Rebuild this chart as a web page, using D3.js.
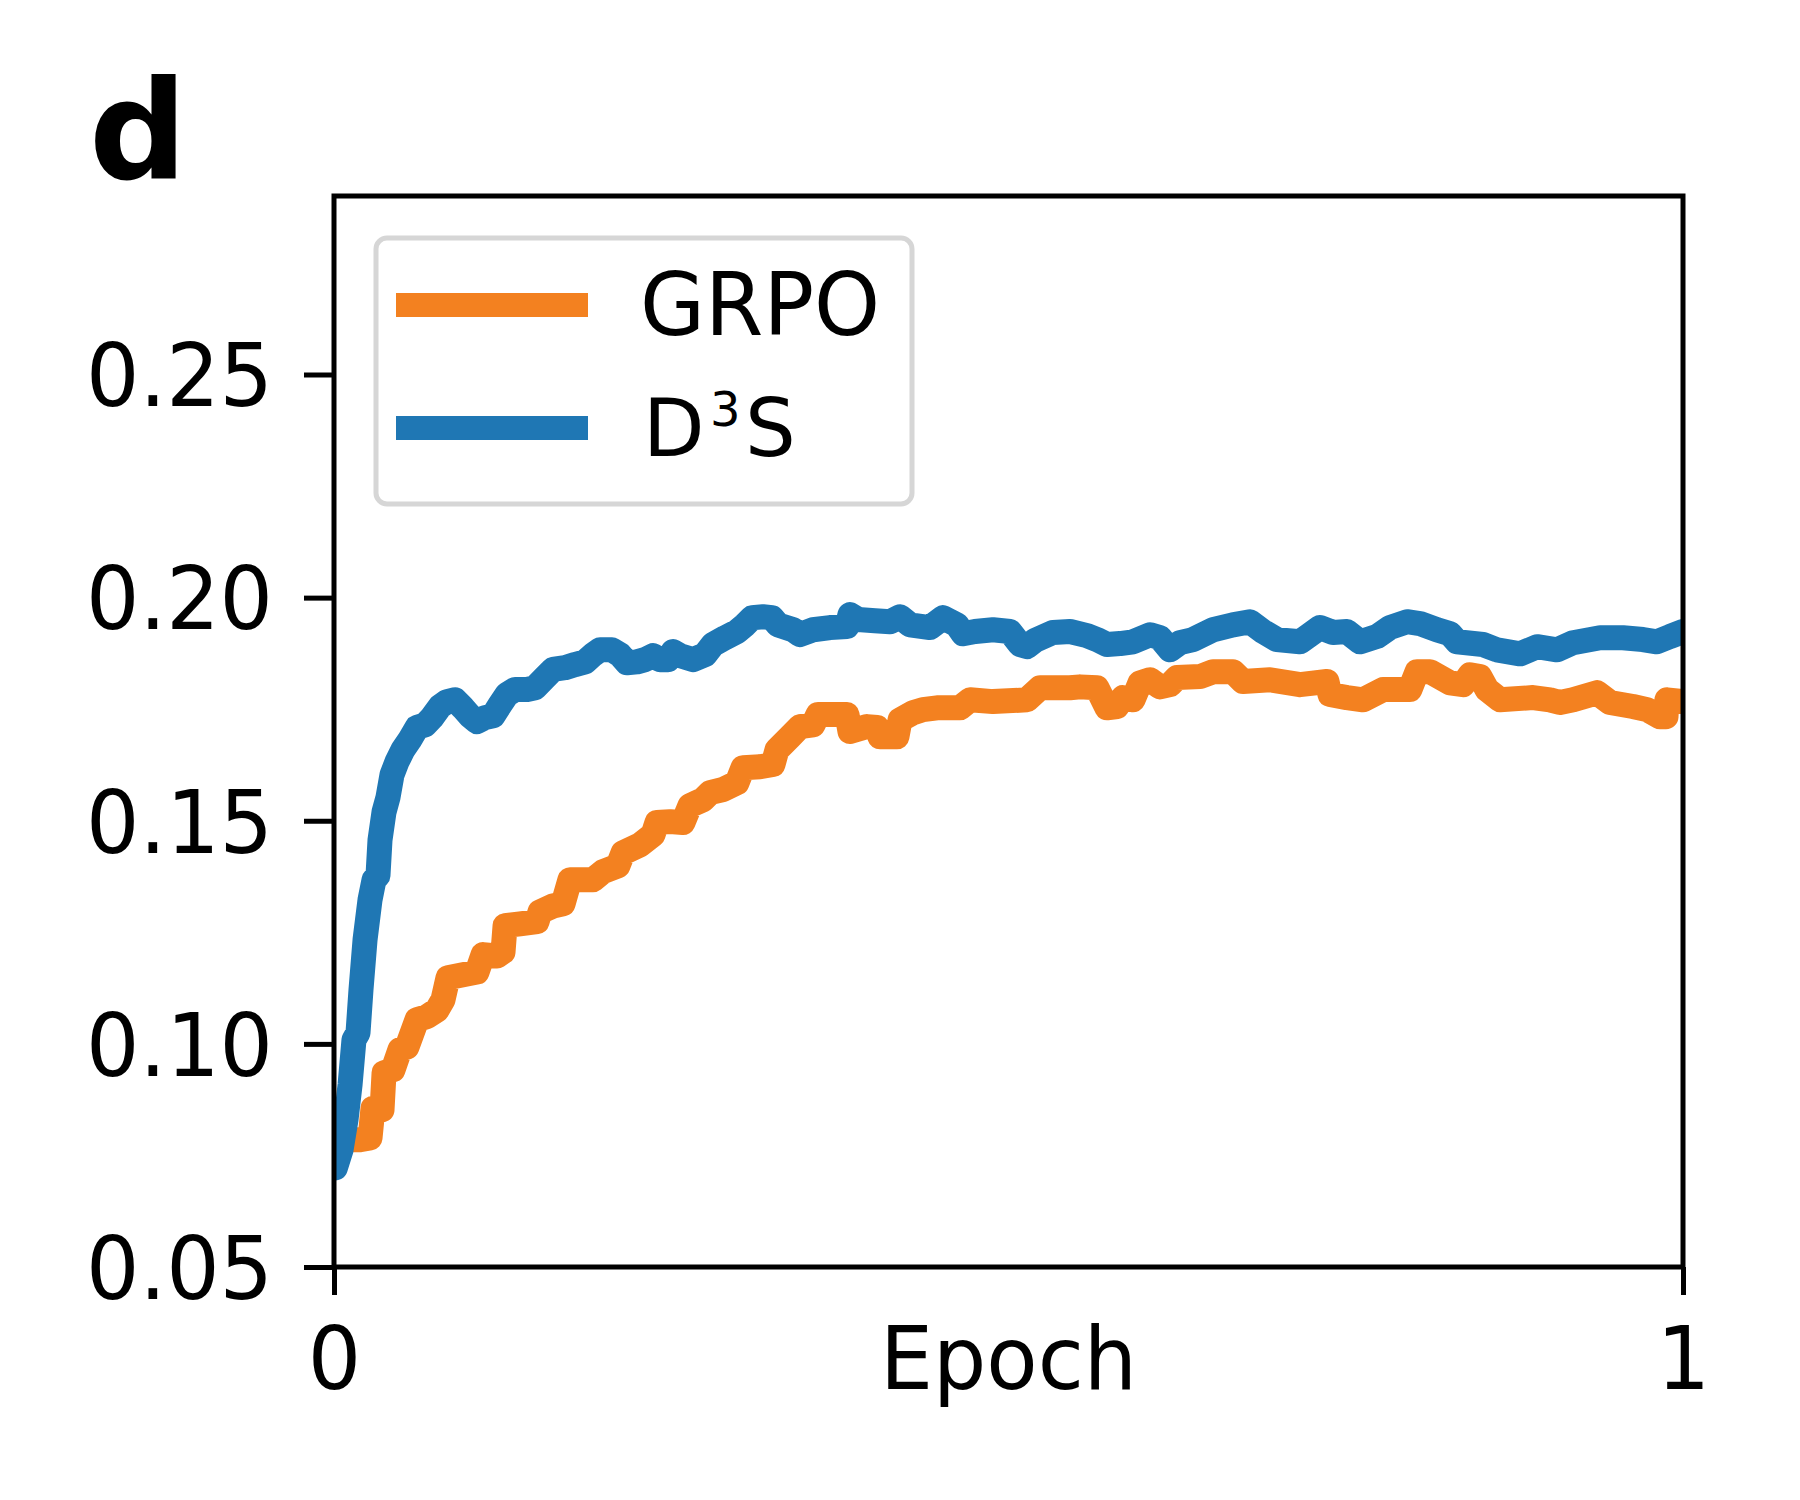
<!DOCTYPE html>
<html>
<head>
<meta charset="utf-8">
<script src="https://cdn.jsdelivr.net/npm/d3@7"></script>
<style>
  html, body { margin: 0; padding: 0; background: #fff; }
  svg { display: block; }
  text { font-family: "DejaVu Sans", sans-serif; fill: #000; }
</style>
</head>
<body>
<svg id="chart" width="1800" height="1500"></svg>
<script>
// ---- data ----
const yTicks = [0.05, 0.10, 0.15, 0.20, 0.25];
const xTicks = [0, 1];
const seriesNames = ["GRPO", "D3S"];

const grpoEpoch = [0,0.0193,0.0267,0.0289,0.0356,0.0371,0.0437,0.0489,0.0541,0.0615,0.0689,0.0764,0.0808,0.0845,0.0956,0.1060,0.1105,0.1208,0.1253,0.1268,0.1379,0.1505,0.1527,0.1623,0.1698,0.1749,0.1920,0.1994,0.2105,0.2142,0.2268,0.2365,0.2394,0.2491,0.2587,0.2639,0.2735,0.2787,0.2884,0.2987,0.3032,0.3158,0.3254,0.3284,0.3380,0.3454,0.3551,0.3588,0.3803,0.3825,0.3951,0.4025,0.4047,0.4173,0.4196,0.4292,0.4366,0.4470,0.4640,0.4715,0.4885,0.5137,0.5234,0.5456,0.5530,0.5656,0.5730,0.5804,0.5849,0.5923,0.5975,0.6049,0.6123,0.6197,0.6249,0.6420,0.6516,0.6664,0.6738,0.6939,0.7161,0.7361,0.7383,0.7509,0.7628,0.7776,0.7976,0.8028,0.8125,0.8273,0.8369,0.8421,0.8495,0.8547,0.8643,0.8888,0.9014,0.9088,0.9185,0.9363,0.9459,0.9629,0.9733,0.9829,0.9874,0.9881,1.0];
const grpoValue = [0.0785,0.0785,0.0789,0.0856,0.0852,0.0935,0.0942,0.0987,0.0993,0.1054,0.1061,0.1076,0.1099,0.1148,0.1155,0.1161,0.1200,0.1197,0.1206,0.1265,0.1269,0.1274,0.1296,0.1309,0.1314,0.1368,0.1368,0.1386,0.1399,0.1428,0.1446,0.1469,0.1496,0.1498,0.1496,0.1534,0.1547,0.1563,0.1570,0.1585,0.1619,0.1621,0.1626,0.1659,0.1688,0.1711,0.1715,0.1738,0.1738,0.1700,0.1711,0.1709,0.1688,0.1688,0.1726,0.1742,0.1749,0.1753,0.1753,0.1771,0.1767,0.1771,0.1798,0.1798,0.1800,0.1798,0.1753,0.1756,0.1776,0.1771,0.1809,0.1816,0.1800,0.1805,0.1821,0.1823,0.1834,0.1834,0.1812,0.1816,0.1805,0.1812,0.1783,0.1776,0.1771,0.1794,0.1794,0.1834,0.1834,0.1809,0.1805,0.1827,0.1823,0.1794,0.1771,0.1776,0.1771,0.1765,0.1771,0.1787,0.1765,0.1756,0.1749,0.1733,0.1733,0.1771,0.1767];

const d3sEpoch = [0.001,0.0052,0.0089,0.0119,0.0148,0.0178,0.0200,0.0230,0.0267,0.0297,0.0326,0.0341,0.0371,0.0400,0.0430,0.0467,0.0511,0.0563,0.0615,0.0675,0.0726,0.0786,0.0838,0.0897,0.0956,0.1008,0.1060,0.1119,0.1179,0.1231,0.1282,0.1342,0.1431,0.1490,0.1564,0.1623,0.1712,0.1787,0.1861,0.1920,0.1972,0.2061,0.2120,0.2172,0.2246,0.2305,0.2365,0.2417,0.2476,0.2513,0.2565,0.2661,0.2750,0.2809,0.2898,0.2987,0.3047,0.3099,0.3180,0.3247,0.3291,0.3403,0.3454,0.3551,0.3677,0.3803,0.3825,0.3884,0.4010,0.4122,0.4196,0.4270,0.4418,0.4514,0.4618,0.4663,0.4752,0.4885,0.5011,0.5085,0.5137,0.5197,0.5330,0.5456,0.5582,0.5656,0.5730,0.5827,0.5923,0.6049,0.6123,0.6197,0.6271,0.6368,0.6516,0.6664,0.6790,0.6887,0.6990,0.7161,0.7309,0.7406,0.7509,0.7606,0.7732,0.7828,0.7954,0.8050,0.8176,0.8273,0.8325,0.8517,0.8621,0.8792,0.8918,0.9066,0.9185,0.9385,0.9555,0.9703,0.9807,0.9904,1.0];
const d3sValue = [0.0722,0.0762,0.0830,0.0908,0.1009,0.1025,0.1121,0.1233,0.1323,0.1368,0.1377,0.1457,0.1520,0.1552,0.1603,0.1632,0.1659,0.1682,0.1709,0.1715,0.1731,0.1756,0.1767,0.1771,0.1753,0.1735,0.1722,0.1731,0.1735,0.1760,0.1783,0.1794,0.1794,0.1798,0.1821,0.1839,0.1843,0.1850,0.1856,0.1872,0.1883,0.1883,0.1872,0.1854,0.1856,0.1861,0.1870,0.1861,0.1861,0.1879,0.1870,0.1861,0.1872,0.1895,0.1910,0.1924,0.1939,0.1955,0.1957,0.1955,0.1939,0.1928,0.1917,0.1928,0.1933,0.1935,0.1962,0.1951,0.1948,0.1946,0.1957,0.1939,0.1933,0.1955,0.1939,0.1919,0.1924,0.1928,0.1924,0.1895,0.1890,0.1904,0.1922,0.1924,0.1915,0.1906,0.1895,0.1897,0.1901,0.1917,0.1910,0.1883,0.1899,0.1906,0.1928,0.1939,0.1946,0.1924,0.1906,0.1901,0.1933,0.1922,0.1924,0.1901,0.1913,0.1933,0.1946,0.1942,0.1928,0.1919,0.1901,0.1895,0.1883,0.1874,0.1890,0.1883,0.1899,0.1910,0.1910,0.1906,0.1901,0.1913,0.1924];

// ---- layout ----
const svg = d3.select("#chart");
const M = { left: 334, right: 1683, top: 196, bottom: 1267 };
const x = d3.scaleLinear().domain([0, 1]).range([M.left, M.right]);
const y = d3.scaleLinear().domain([0.05, 0.29]).range([M.bottom, M.top]);
const FS = 84, SY = 1.035;
const colors = { GRPO: "#f38120", D3S: "#1f77b4" };
const LW = 25;

svg.append("defs").append("clipPath").attr("id", "clip")
  .append("rect").attr("x", M.left).attr("y", M.top)
  .attr("width", M.right - M.left).attr("height", M.bottom - M.top);

// lines
const line = d3.line().x(d => x(d[0])).y(d => y(d[1]));
const grpo = grpoEpoch.map((e, i) => [e, grpoValue[i]]);
const d3s = d3sEpoch.map((e, i) => [e, d3sValue[i]]);
const g = svg.append("g").attr("clip-path", "url(#clip)");
[[grpo, colors.GRPO], [d3s, colors.D3S]].forEach(([data, c]) => {
  g.append("path").datum(data).attr("d", line)
    .attr("fill", "none").attr("stroke", c).attr("stroke-width", LW)
    .attr("stroke-linejoin", "round").attr("stroke-linecap", "round");
});

// axes
const yAxis = svg.append("g").attr("transform", `translate(${M.left},0)`)
  .call(d3.axisLeft(y).tickValues(yTicks).tickFormat(d3.format(".2f")).tickSize(30).tickSizeOuter(0));
const xAxis = svg.append("g").attr("transform", `translate(0,${M.bottom})`)
  .call(d3.axisBottom(x).tickValues(xTicks).tickFormat(d3.format("d")).tickSize(28).tickSizeOuter(0));
[yAxis, xAxis].forEach(a => {
  a.select(".domain").remove();
  a.selectAll(".tick line").attr("stroke", "#000").attr("stroke-width", 5);
  a.selectAll(".tick text").attr("font-size", FS).attr("font-family", "DejaVu Sans").attr("fill", "#000");
});
yAxis.selectAll(".tick text").attr("x", -61).attr("dy", "0.36em").attr("transform", `scale(1,${SY})`);
xAxis.selectAll(".tick text").attr("y", 122 / SY).attr("dy", 0).attr("transform", `scale(1,${SY})`);

// frame
svg.append("rect").attr("x", M.left).attr("y", M.top)
  .attr("width", M.right - M.left).attr("height", M.bottom - M.top)
  .attr("fill", "none").attr("stroke", "#000").attr("stroke-width", 5);

// x label
svg.append("text").attr("text-anchor", "middle").attr("font-size", FS)
  .attr("transform", `translate(${(M.left + M.right) / 2},1389) scale(1,${SY})`)
  .text("Epoch");

// panel letter
svg.append("text").attr("x", 89).attr("y", 178).attr("font-size", 137)
  .attr("font-weight", "bold").text("d");

// legend
const leg = svg.append("g");
leg.append("rect").attr("x", 376).attr("y", 238).attr("width", 536).attr("height", 266)
  .attr("rx", 11).attr("fill", "#fff").attr("stroke", "#d6d6d6").attr("stroke-width", 5);
const legendRows = [{ name: "GRPO", cy: 305, base: 335 }, { name: "D3S", cy: 428, base: 456 }];
legendRows.forEach(r => {
  leg.append("line").attr("x1", 396).attr("x2", 588).attr("y1", r.cy).attr("y2", r.cy)
    .attr("stroke", colors[r.name]).attr("stroke-width", 24);
  if (r.name === "D3S") {
    leg.append("text").attr("x", 643).attr("y", r.base).style("font-size", "80px").text("D");
    leg.append("text").attr("x", 710).attr("y", r.base - 30).style("font-size", "48px").text("3");
    leg.append("text").attr("x", 745).attr("y", r.base).style("font-size", "80px").text("S");
  } else {
    leg.append("text").attr("font-size", FS)
      .attr("transform", `translate(640,${r.base}) scale(1,${SY})`).text(r.name);
  }
});
</script>
</body>
</html>
